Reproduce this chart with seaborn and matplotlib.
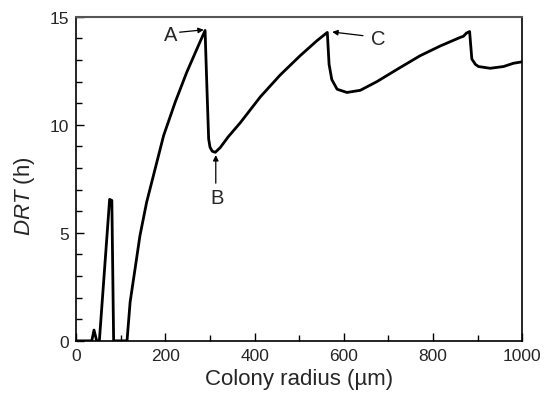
"""DRT versus colony radius, single black trace with A/B/C markers."""

import matplotlib

matplotlib.use("Agg")
import pandas as pd
import seaborn as sns
from matplotlib import pyplot as plt
from matplotlib.ticker import MultipleLocator

# values
radius = [0, 35, 40, 46, 52, 75, 80, 84, 114, 121, 132, 143, 158, 177, 196, 222,
          248, 274, 289, 293, 297, 300, 305, 312, 323, 341, 368, 413, 457, 502,
          540, 563, 567, 573, 585, 607, 637, 674, 726, 771, 816, 861, 868, 875,
          882, 887, 895, 902, 928, 958, 980, 1000]
drt = [0, 0, 0.5, 0, 0, 6.55, 6.5, 0, 0, 1.8, 3.33, 4.87, 6.42, 7.96, 9.5, 11.05,
       12.44, 13.67, 14.37, 11.8, 9.35, 8.97, 8.78, 8.73, 8.95, 9.45, 10.1, 11.3, 12.3, 13.2,
       13.9, 14.28, 12.8, 12.1, 11.65, 11.5, 11.6, 12.0, 12.65, 13.2, 13.65, 14.05, 14.1, 14.25,
       14.32, 13.05, 12.8, 12.7, 12.62, 12.7, 12.85, 12.92]

labels = ["A", "B", "C"]
label_xy = [(211, 14.2), (315, 6.65), (678, 14.0)]
arrow_tail = [(232, 14.29), (313, 7.3), (643, 14.13)]
arrow_head = [(286, 14.4), (313, 8.6), (574, 14.3)]

sns.set_style("ticks")
plt.rcParams["font.family"] = ["Liberation Sans", "DejaVu Sans"]
plt.rcParams["mathtext.fontset"] = "custom"
plt.rcParams["mathtext.it"] = "Liberation Sans:italic"
plt.rcParams["mathtext.rm"] = "Liberation Sans"

df = pd.DataFrame({"radius": radius, "drt": drt})

fig = plt.figure(figsize=(5.44, 4.06), dpi=100)
ax = fig.add_axes([0.14, 0.158, 0.82, 0.798])
sns.lineplot(data=df, x="radius", y="drt", sort=False, estimator=None,
             color="black", linewidth=2.0, ax=ax)

for lab, pos, tail, head in zip(labels, label_xy, arrow_tail, arrow_head):
    ax.text(pos[0], pos[1], lab, fontsize=14.5, ha="center", va="center")
    ax.annotate("", xy=head, xytext=tail,
                arrowprops=dict(arrowstyle="-|>", color="black", lw=0.9,
                                mutation_scale=8, shrinkA=0, shrinkB=0))

ax.set_xlim(0, 1000)
ax.set_ylim(0, 15)
ax.xaxis.set_major_locator(MultipleLocator(200))
ax.xaxis.set_minor_locator(MultipleLocator(100))
ax.yaxis.set_major_locator(MultipleLocator(5))
ax.yaxis.set_minor_locator(MultipleLocator(1))
ax.tick_params(which="both", direction="in", top=False, right=False,
               labelsize=12.5, width=1.0, color="black", pad=5)
ax.tick_params(which="major", length=6)
ax.tick_params(which="minor", length=4)
for side in ["left", "bottom", "right"]:
    ax.spines[side].set_color("black")
    ax.spines[side].set_linewidth(1.2)
ax.spines["top"].set_color("#555555")
ax.spines["top"].set_linewidth(1.5)

ax.set_xlabel("Colony radius (\u00b5m)", fontsize=16, labelpad=4)
ax.set_ylabel(r"$\it{DRT}$ (h)", fontsize=16)
ax.yaxis.set_label_coords(-0.088, 0.45)

fig.savefig("out.png", dpi=100)
